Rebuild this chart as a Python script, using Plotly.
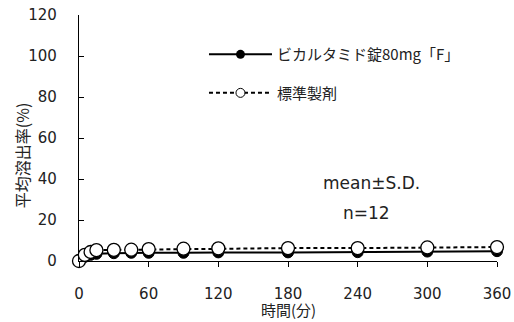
import plotly.graph_objects as go

time_min = [0, 5, 10, 15, 30, 45, 60, 90, 120, 180, 240, 300, 360]
test_mean = [0, 2.0, 3.0, 3.5, 3.8, 4.0, 4.0, 4.0, 4.2, 4.2, 4.3, 4.6, 4.8]
ref_mean = [0, 3.0, 4.4, 5.3, 5.4, 5.5, 5.8, 6.0, 6.2, 6.3, 6.3, 6.6, 6.8]

test_name = "ビカルタミド錠80mg「F」"
ref_name = "標準製剤"
x_title = "時間(分)"
y_title = "平均溶出率(%)"
x_ticks = [0, 60, 120, 180, 240, 300, 360]
y_ticks = [0, 20, 40, 60, 80, 100, 120]

FONT = "DejaVu Sans, Noto Sans CJK JP, sans-serif"
CJK = "Noto Sans CJK JP, sans-serif"
TXT = "#222"

fig = go.Figure()
# data traces
fig.add_trace(go.Scatter(
    x=time_min, y=test_mean, name=test_name, mode="lines+markers",
    line=dict(color="black", width=2),
    marker=dict(symbol="circle", size=11, color="black", line=dict(color="black", width=1)),
    showlegend=False, cliponaxis=False,
))
fig.add_trace(go.Scatter(
    x=time_min, y=ref_mean, name=ref_name, mode="lines+markers",
    line=dict(color="black", width=2, dash="4px,3px"),
    marker=dict(symbol="circle", size=13, color="white", line=dict(color="black", width=1.3)),
    showlegend=False, cliponaxis=False,
))
# legend entries (smaller markers as in the reference legend)
fig.add_trace(go.Scatter(
    x=[None], y=[None], name=test_name, mode="lines+markers",
    line=dict(color="black", width=2),
    marker=dict(symbol="circle", size=9, color="black"),
    legendgroup="a",
))
fig.add_trace(go.Scatter(
    x=[None], y=[None], name=ref_name, mode="lines+markers",
    line=dict(color="black", width=2, dash="4px,3px"),
    marker=dict(symbol="circle", size=9, color="white", line=dict(color="black", width=1)),
    legendgroup="b",
))

fig.add_annotation(x=0.578, y=0.317, xref="paper", yref="paper", text="mean±S.D.",
                   xanchor="left", yanchor="middle", showarrow=False,
                   font=dict(family=FONT, size=17, color=TXT))
fig.add_annotation(x=0.627, y=0.195, xref="paper", yref="paper", text="n=12",
                   xanchor="left", yanchor="middle", showarrow=False,
                   font=dict(family=FONT, size=17, color=TXT))
# axis titles
fig.add_annotation(x=0.50, y=-0.199, xref="paper", yref="paper", text=x_title,
                   xanchor="center", yanchor="middle", showarrow=False,
                   font=dict(family=CJK, size=15, color=TXT))
fig.add_annotation(x=-0.136, y=0.431, xref="paper", yref="paper", text=y_title, textangle=-90,
                   xanchor="center", yanchor="middle", showarrow=False,
                   font=dict(family=CJK, size=16, color=TXT))

fig.update_layout(
    width=514, height=322,
    margin=dict(l=79, r=17, t=15, b=61),
    plot_bgcolor="white", paper_bgcolor="white",
    font=dict(family=FONT, color=TXT, size=15),
    showlegend=True,
    legend=dict(x=0.299, y=0.906, xanchor="left", yanchor="top",
                bgcolor="rgba(0,0,0,0)", itemwidth=63, tracegroupgap=16,
                traceorder="grouped",
                font=dict(family=CJK, size=15, color=TXT)),
    xaxis=dict(range=[0, 360], tickvals=x_ticks, showline=True, linecolor="black", linewidth=1.2,
               ticks="outside", ticklen=5, tickcolor="black", showgrid=False, zeroline=False,
               automargin=False, ticklabelstandoff=14, ticklabeloverflow="allow",
               tickfont=dict(family=FONT, size=15, color=TXT)),
    yaxis=dict(range=[0, 120], tickvals=y_ticks, showline=True, linecolor="black", linewidth=1.2,
               ticks="inside", ticklen=5, tickcolor="black", showgrid=False, zeroline=False,
               automargin=False, ticklabelstandoff=18, ticklabeloverflow="allow",
               tickfont=dict(family=FONT, size=15, color=TXT)),
)

# remove the page's default body margin so the figure fills the window exactly
fig.write_html("out.html", config={"displayModeBar": False},
               post_script="document.body.style.margin='0';")
